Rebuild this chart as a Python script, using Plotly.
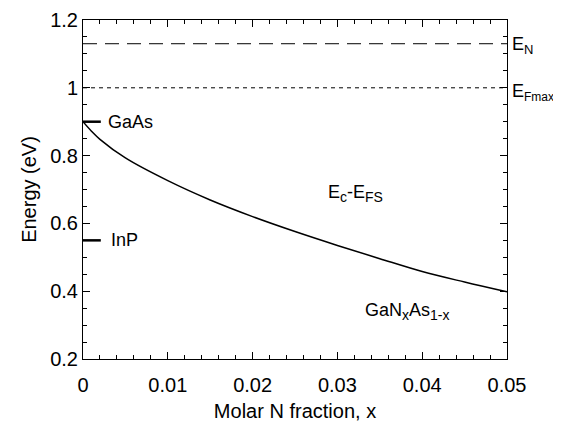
import plotly.graph_objects as go

# Data
x_frac = [0, 0.001, 0.002, 0.005, 0.01, 0.015, 0.02, 0.025, 0.03, 0.035, 0.04, 0.045, 0.05]
ec_efs = [0.9, 0.872, 0.848, 0.793, 0.726, 0.669, 0.62, 0.576, 0.535, 0.496, 0.458, 0.427, 0.398]
E_N = 1.13
E_Fmax = 1.0
gaas_level = 0.9
inp_level = 0.55
marker_x = [0, 0.0021]
x_range = [0, 0.05]

fig = go.Figure()
fig.add_trace(go.Scatter(x=x_frac, y=ec_efs, mode="lines",
                         line=dict(color="black", width=1.5), line_shape="spline"))
fig.add_trace(go.Scatter(x=x_range, y=[E_N, E_N], mode="lines",
                         line=dict(color="black", width=1, dash="14px,8px")))
fig.add_trace(go.Scatter(x=x_range, y=[E_Fmax, E_Fmax], mode="lines",
                         line=dict(color="black", width=1, dash="4px,4px")))
fig.add_trace(go.Scatter(x=marker_x, y=[gaas_level, gaas_level], mode="lines",
                         line=dict(color="black", width=2.5)))
fig.add_trace(go.Scatter(x=marker_x, y=[inp_level, inp_level], mode="lines",
                         line=dict(color="black", width=2.5)))

FAM = "Liberation Sans, Arial, sans-serif"
font = dict(family=FAM, size=18, color="black")
tickfont = dict(family=FAM, size=20, color="black")
titlefont = dict(family=FAM, size=20, color="black")


def sub(t, px=14):
    return f'<sub><span style="font-size:{px}px">{t}</span></sub>'


ann = [
    dict(x=0.0056, y=gaas_level, text="GaAs", xanchor="center", yanchor="middle"),
    dict(x=0.0049, y=inp_level, text="InP", xanchor="center", yanchor="middle"),
    dict(x=0.0321, y=0.688, text="E" + sub("c") + "-E" + sub("FS"),
         xanchor="center", yanchor="middle"),
    dict(x=0.0382, y=0.34, text="GaN" + sub("x") + "As" + sub("1-x"),
         xanchor="center", yanchor="middle"),
    dict(x=1.01, y=E_N - 0.005, xref="paper", text="E" + sub("N", 13),
         xanchor="left", yanchor="middle"),
    dict(x=1.01, y=E_Fmax - 0.015, xref="paper", text="E" + sub("Fmax", 12),
         xanchor="left", yanchor="middle"),
]
for a in ann:
    a.setdefault("xref", "x")
    a.update(yref="y", showarrow=False, font=font, borderpad=0)
fig.update_layout(annotations=ann)

fig.update_layout(
    width=545, height=414,
    margin=dict(l=75, r=46, t=12, b=63),
    paper_bgcolor="white", plot_bgcolor="white",
    showlegend=False, font=font,
)
fig.update_xaxes(range=x_range, dtick=0.01, tick0=0, ticks="inside", ticklen=7,
                 tickcolor="black", showline=True, linecolor="black", linewidth=1,
                 mirror="ticks", showgrid=False, zeroline=False, automargin=False,
                 minor=dict(dtick=0.002, ticks="inside", ticklen=4, tickcolor="black"),
                 title=dict(text="Molar N fraction, x", standoff=12, font=titlefont),
                 tickfont=tickfont, ticklabelstandoff=8)
fig.update_yaxes(range=[0.2, 1.2], dtick=0.2, tick0=0.2, ticks="inside", ticklen=7,
                 tickcolor="black", showline=True, linecolor="black", linewidth=1,
                 mirror="ticks", showgrid=False, zeroline=False, automargin=False,
                 minor=dict(dtick=0.05, ticks="inside", ticklen=4, tickcolor="black"),
                 title=dict(text="Energy (eV)", standoff=8, font=titlefont),
                 tickfont=tickfont)

fig.write_html("out.html")
